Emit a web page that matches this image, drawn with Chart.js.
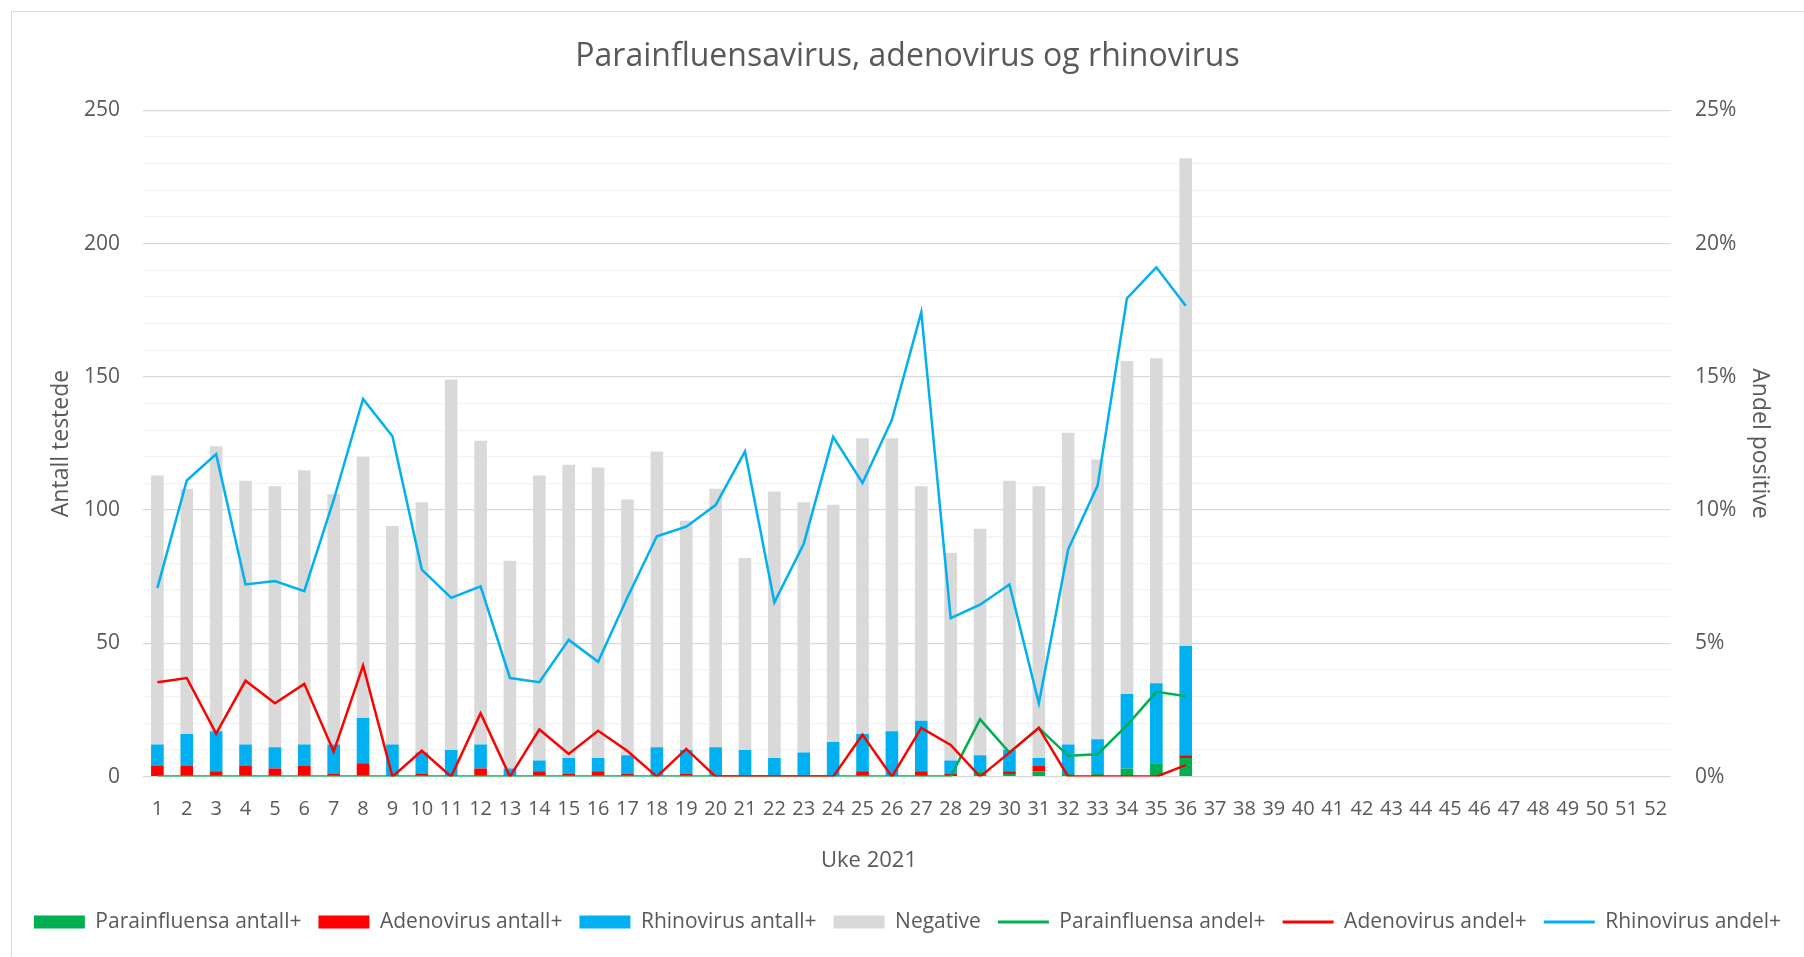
<!DOCTYPE html>
<html>
<head>
<meta charset="utf-8">
<title>Parainfluensavirus, adenovirus og rhinovirus</title>
<script src="https://cdn.jsdelivr.net/npm/chart.js@4.4.1/dist/chart.umd.min.js"></script>
<style>
  html, body { margin: 0; padding: 0; background: #fff; }
  #wrap { position: relative; width: 1804px; height: 957px; overflow: hidden; }
  #frame { position: absolute; left: 11px; top: 11px; width: 1900px; height: 1000px; border: 1px solid #d9d9d9; }
  canvas { position: absolute; left: 0; top: 0; }
</style>
</head>
<body>
<div id="wrap">
  <div id="frame"></div>
  <canvas id="chart" width="1804" height="957"></canvas>
</div>
<script>
// Uke 2021, antall testede og andel positive

const weeks = ['1','2','3','4','5','6','7','8','9','10','11','12','13','14','15','16','17','18',
  '19','20','21','22','23','24','25','26','27','28','29','30','31','32','33','34','35','36',
  '37','38','39','40','41','42','43','44','45','46','47','48','49','50','51','52'];

// antall positive / negative per uke (uke 1-36)
const paraCount  = [0,0,0,0,0,0,0,0,0,0,0,0,0,0,0,0,0,0,0,0,0,0,0,0,0,0,0,0,2,1,2,1,1,3,5,7];
const adenoCount = [4,4,2,4,3,4,1,5,0,1,0,3,0,2,1,2,1,0,1,0,0,0,0,0,2,0,2,1,0,1,2,0,0,0,0,1];
const rhinoCount = [8,12,15,8,8,8,11,17,12,8,10,9,3,4,6,5,7,11,9,11,10,7,9,13,14,17,19,5,6,8,3,11,13,28,30,41];
const negative   = [101,92,107,99,98,103,94,98,82,94,139,114,78,107,110,109,96,111,86,97,72,100,94,89,
  111,110,88,78,85,101,102,117,105,125,122,183];

// andel positive i prosent
const paraPct  = [0,0,0,0,0,0,0,0,0,0,0,0,0,0,0,0,0,0,0,0,0,0,0,0,0,0,0,0,2.15,0.90,1.83,0.78,0.84,1.92,3.18,3.02];
const adenoPct = [3.54,3.70,1.61,3.60,2.75,3.48,0.94,4.17,0,0.97,0,2.38,0,1.77,0.85,1.72,0.96,0,1.04,0,
  0,0,0,0,1.57,0,1.83,1.19,0,0.90,1.83,0,0,0,0,0.43];
const rhinoPct = [7.08,11.11,12.10,7.21,7.34,6.96,10.38,14.17,12.77,7.77,6.71,7.14,3.70,3.54,5.13,4.31,6.73,9.02,
  9.38,10.19,12.20,6.54,8.74,12.75,11.02,13.39,17.43,5.95,6.45,7.21,2.75,8.53,10.92,17.95,19.11,17.67];

const leftTicks = [0, 50, 100, 150, 200, 250];
const rightTicks = [0, 5, 10, 15, 20, 25];

const GREEN = '#00b050';
const RED = '#ff0000';
const BLUE = '#00b0f0';
const GREY = '#d9d9d9';
const TEXT = '#595959';

Chart.defaults.font.family = "'Open Sans', sans-serif";
Chart.defaults.color = TEXT;

function bar(label, data, color) {
  return { type: 'bar', label: label, data: data, backgroundColor: color, borderWidth: 0,
    yAxisID: 'y', order: 10, barPercentage: 0.43, categoryPercentage: 1 };
}

function line(label, data, color, order) {
  return { type: 'line', label: label, data: data, borderColor: color, backgroundColor: color,
    borderWidth: 2.5, pointRadius: 0, tension: 0, yAxisID: 'y1', order: order };
}

// x-akse tittel, plassert som i originalen
const xTitlePlugin = {
  id: 'xTitle',
  afterDraw(chart) {
    const ctx = chart.ctx;
    ctx.save();
    ctx.font = "22px 'Open Sans', sans-serif";
    ctx.fillStyle = TEXT;
    ctx.textAlign = 'center';
    ctx.textBaseline = 'middle';
    ctx.fillText('Uke 2021', 869, 861);
    ctx.restore();
  }
};

new Chart(document.getElementById('chart'), {
  data: {
    labels: weeks,
    datasets: [
      bar('Parainfluensa antall+', paraCount, GREEN),
      bar('Adenovirus antall+', adenoCount, RED),
      bar('Rhinovirus antall+', rhinoCount, BLUE),
      bar('Negative', negative, GREY),
      line('Parainfluensa andel+', paraPct, GREEN, 3),
      line('Adenovirus andel+', adenoPct, RED, 2),
      line('Rhinovirus andel+', rhinoPct, BLUE, 1)
    ]
  },
  plugins: [xTitlePlugin],
  options: {
    responsive: false,
    animation: false,
    layout: { padding: { left: 11, right: 0, top: 0, bottom: 14.5 } },
    plugins: {
      title: {
        display: true,
        text: 'Parainfluensavirus, adenovirus og rhinovirus',
        font: { size: 32, weight: 'normal' },
        color: TEXT,
        padding: { top: 37.8, bottom: 34.2 }
      },
      legend: {
        position: 'bottom',
        labels: {
          font: { size: 21 },
          color: TEXT,
          padding: 17,
          usePointStyle: true,
          pointStyleWidth: 51,
          boxHeight: 13,
          generateLabels(chart) {
            return chart.data.datasets.map((ds, i) => ({
              text: ds.label,
              datasetIndex: i,
              fillStyle: ds.type === 'bar' ? ds.backgroundColor : 'rgba(0,0,0,0)',
              strokeStyle: ds.type === 'bar' ? 'rgba(0,0,0,0)' : ds.borderColor,
              lineWidth: ds.type === 'bar' ? 0 : 3,
              pointStyle: ds.type === 'bar' ? 'rect' : 'line',
              fontColor: TEXT,
              hidden: false
            }));
          }
        }
      },
      tooltip: { enabled: false }
    },
    scales: {
      x: {
        stacked: true,
        grid: { display: false },
        border: { display: false },
        ticks: { font: { size: 20 }, padding: 13, maxRotation: 0, autoSkip: false },
        afterFit(scale) { scale.height = 117.9; }
      },
      y: {
        stacked: true,
        position: 'left',
        min: 0,
        max: 250,
        border: { display: false },
        grid: {
          drawTicks: false,
          lineWidth: 1.3,
          color: (c) => (leftTicks.includes(c.tick.value) ? '#d9d9d9' : '#f2f2f2')
        },
        ticks: {
          stepSize: 10,
          autoSkip: false,
          padding: 22.7,
          font: { size: 21 },
          callback: (v) => (leftTicks.includes(v) ? v : '')
        },
        title: {
          display: true,
          text: 'Antall testede',
          font: { size: 23 },
          color: TEXT,
          padding: { top: 36.2, bottom: 0 }
        },
        afterFit(scale) { scale.width = 131.7; }
      },
      y1: {
        position: 'right',
        min: 0,
        max: 25,
        border: { display: false },
        grid: { drawOnChartArea: false, drawTicks: false },
        ticks: {
          stepSize: 5,
          padding: 24.5,
          font: { size: 21 },
          callback: (v) => (rightTicks.includes(v) ? v + '%' : '')
        },
        title: {
          display: true,
          text: 'Andel positive',
          font: { size: 23 },
          color: TEXT,
          padding: { top: 30.2, bottom: 0 }
        },
        afterFit(scale) { scale.width = 133.5; }
      }
    }
  }
});
</script>
</body>
</html>
